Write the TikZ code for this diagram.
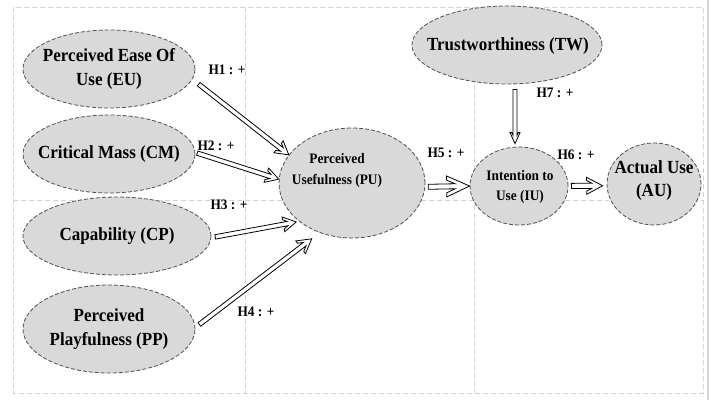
\documentclass[tikz,border=0pt]{standalone}
\usepackage{fontspec}
\setmainfont{Liberation Serif}[FakeStretch=0.92]
\usetikzlibrary{calc,shapes.geometric}
\definecolor{ellfill}{HTML}{D9D9D9}
\definecolor{ellline}{HTML}{505050}
\definecolor{gridline}{HTML}{D4D4D4}
\tikzset{
  ell/.style={ellipse, draw=ellline, fill=ellfill, line width=0.8pt,
    dash pattern=on 4pt off 2pt, inner sep=0pt},
  bigtext/.style={align=center, inner sep=0pt, font=\bfseries\fontsize{18.5}{24}\selectfont},
  smalltext/.style={align=center, inner sep=0pt, font=\bfseries\fontsize{14.5}{21}\selectfont},
  hlabel/.style={inner sep=0pt, font=\bfseries\fontsize{14.5}{17}\selectfont},
  grid/.style={draw=gridline, line width=0.8pt, dash pattern=on 5pt off 3pt},
  fat/.style={draw=black, fill=white, line width=0.8pt, line join=miter}
}
% #1 start, #2 tip, #3 half shaft width, #4 half head width, #5 head length, #6 chevron thickness
\newcommand{\fatarrow}[6]{%
  \pgfmathsetmacro\faS{#6+#3*#5/#4}%
  \pgfmathsetmacro\faV{#4-#4*#6/#5}%
  \draw[fat] ($(#1)!#3pt!-90:(#2)$)
    -- ($(#2)!\faS pt!(#1)!#3pt!90:(#1)$)
    -- ($(#2)!#5pt!(#1)!\faV pt!90:(#1)$)
    -- ($(#2)!#5pt!(#1)!#4pt!90:(#1)$)
    -- (#2)
    -- ($(#2)!#5pt!(#1)!#4pt!-90:(#1)$)
    -- ($(#2)!#5pt!(#1)!\faV pt!-90:(#1)$)
    -- ($(#2)!\faS pt!(#1)!#3pt!-90:(#1)$)
    -- ($(#1)!#3pt!90:(#2)$) -- cycle;
}
\begin{document}
\begin{tikzpicture}[x=1pt,y=-1pt]
\useasboundingbox (0,0) rectangle (714,400);
\fill[white] (0,0) rectangle (714,400);
% frame and grid
\draw[grid] (13,7) rectangle (703,393);
\draw[grid] (245,7) -- (245,393);
\draw[grid] (474,45) -- (474,393);
\draw[grid] (13,200) -- (703,200);
\draw[draw=gridline, line width=1.2pt] (708,0) -- (708,400);
% ellipses
\node[ell, minimum width=172pt, minimum height=78pt] (EU) at (109,69) {};
\node[bigtext] (EUt) at (EU) {Perceived Ease Of\\Use (EU)};
\node[ell, minimum width=172pt, minimum height=78pt] (CM) at (109,154) {};
\node[bigtext] (CMt) at (CM) {Critical Mass (CM)};
\node[ell, minimum width=188pt, minimum height=78pt] (CP) at (117,236) {};
\node[bigtext] (CPt) at (CP) {Capability (CP)};
\node[ell, minimum width=172pt, minimum height=88pt] (PP) at (109,329) {};
\node[bigtext] (PPt) at (PP) {Perceived\\Playfulness (PP)};
\node[ell, minimum width=146pt, minimum height=110pt] (PU) at (352,183) {};
\node[smalltext] (PUt) at (337,171) {Perceived\\Usefulness (PU)};
\node[ell, minimum width=190pt, minimum height=78pt] (TW) at (507,45) {};
\node[bigtext] (TWt) at (508,46) {Trustworthiness (TW)};
\node[ell, minimum width=98pt, minimum height=78pt] (IU) at (519,186) {};
\node[smalltext, font=\bfseries\fontsize{14.5}{20}\selectfont] (IUt) at (520,187) {Intention to\\Use (IU)};
\node[ell, minimum width=94pt, minimum height=82pt] (AU) at (654,184) {};
\node[bigtext, font=\bfseries\fontsize{18.5}{23}\selectfont] (AUt) at (654,181) {Actual Use\\(AU)};
% arrow end points, taken on the ellipses
\coordinate (a1s) at ($(EU.-7)!8pt!(PU.156)$);
\coordinate (a1e) at (PU.156);
\coordinate (a2s) at ($(CM.1)!2pt!(PU.177)$);
\coordinate (a2e) at (PU.177);
\coordinate (a3s) at ($(CP.-1)!4pt!(PU.216)$);
\coordinate (a3e) at ($(PU.216)!3pt!(CP.-1)$);
\coordinate (a4s) at ($(PP.1)!5pt!(PU.237)$);
\coordinate (a4e) at ($(PU.237)!10pt!(PP.1)$);
\coordinate (a5s) at ($(PU.-3)!3pt!(IU.west)$);
\coordinate (a5e) at (IU.west);
\coordinate (a6s) at ($(IU.east)!3pt!(AU.182)$);
\coordinate (a6e) at ($(AU.182)!4pt!(IU.east)$);
\coordinate (a7s) at ($([xshift=8pt]TW.south)!5pt!([xshift=-4pt]IU.north)$);
\coordinate (a7e) at ($([xshift=-4pt]IU.north)!3pt!([xshift=8pt]TW.south)$);
% arrows
\fatarrow{a1s}{a1e}{2.2}{7.5}{13}{5}
\fatarrow{a2s}{a2e}{2.2}{7.5}{13}{5}
\fatarrow{a3s}{a3e}{2.2}{7.5}{13}{5}
\fatarrow{a4s}{a4e}{2.2}{8}{14}{5}
\fatarrow{a5s}{a5e}{2.5}{10.5}{23}{9}
\fatarrow{a6s}{a6e}{2.6}{8.5}{16}{6}
\fatarrow{a7s}{a7e}{2}{5}{11}{4}
% labels
\node[hlabel] (h1) at (227,70) {H1 : +};
\node[hlabel] (h2) at (216,146) {H2 : +};
\node[hlabel] (h3) at (229,205) {H3 : +};
\node[hlabel] (h4) at (256,312) {H4 : +};
\node[hlabel] (h5) at (446,153) {H5 : +};
\node[hlabel] (h6) at (576,155) {H6 : +};
\node[hlabel] (h7) at (555,93) {H7 : +};
\end{tikzpicture}
\end{document}
